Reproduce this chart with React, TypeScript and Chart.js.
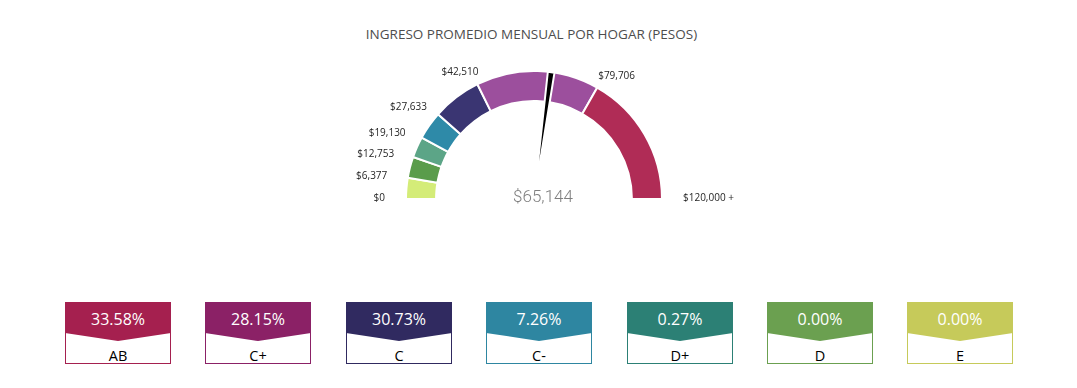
import React, { useEffect, useRef } from 'react';
import { Chart, registerables } from 'chart.js';

Chart.register(...registerables);

// ---- data ----
const chartTitle = 'INGRESO PROMEDIO MENSUAL POR HOGAR (PESOS)';
const thresholds = [0, 6377, 12753, 19130, 27633, 42510, 79706, 120000];
const thresholdLabels = ['$0', '$6,377', '$12,753', '$19,130', '$27,633', '$42,510', '$79,706', '$120,000 +'];
const bandColors = ['#D4EC78', '#5A9C4B', '#5CA587', '#2E8AA8', '#3A3572', '#9C4F9D', '#B02C56'];
const currentValue = 65144;
const currentLabel = '$65,144';
const needleWidth = 2000;

const groups = ['AB', 'C+', 'C', 'C-', 'D+', 'D', 'E'];
const groupShares = [33.58, 28.15, 30.73, 7.26, 0.27, 0.0, 0.0];
const groupColors = ['#A5204F', '#8B2166', '#302A60', '#2E86A1', '#2C8075', '#6BA050', '#C6CA5A'];

// ---- derived ----
const bandValues = thresholds.slice(1).map((t, i) => t - thresholds[i]);
const gaugeMax = thresholds[thresholds.length - 1];
const needleValues = [currentValue - needleWidth / 2, needleWidth, gaugeMax - currentValue - needleWidth / 2];

const chartPadding = { left: 65, right: 87, top: 15, bottom: 15 };

const boundaryLabelsPlugin = {
  id: 'boundaryLabels',
  afterDatasetsDraw(chart: any) {
    const meta = chart.getDatasetMeta(0);
    const arcs = meta.data;
    if (!arcs || !arcs.length) return;
    const ctx = chart.ctx;
    ctx.save();
    ctx.font = '10px "Open Sans"';
    ctx.fillStyle = '#262626';
    ctx.textAlign = 'center';
    ctx.textBaseline = 'middle';
    const first = arcs[0];
    const { x, y, outerRadius } = first.getProps(['x', 'y', 'outerRadius'], true);
    const angles = arcs.map((a: any) => a.startAngle).concat([arcs[arcs.length - 1].endAngle]);
    angles.forEach((ang: number, i: number) => {
      const text = thresholdLabels[i];
      const c = Math.cos(ang);
      const s = Math.sin(ang);
      const px = x + outerRadius * c;
      const py = y + outerRadius * s;
      const w = ctx.measureText(text).width;
      const cx = px + c * (21 + w / 2);
      const cy = py + s * 14 * Math.abs(s) - 1;
      ctx.fillText(text, cx, cy);
    });
    ctx.restore();
  },
};

function Gauge() {
  const ringRef = useRef<HTMLCanvasElement>(null);
  const needleRef = useRef<HTMLCanvasElement>(null);

  useEffect(() => {
    const common: any = {
      responsive: true,
      maintainAspectRatio: false,
      animation: false,
      events: [],
      rotation: -90,
      circumference: 180,
      layout: { padding: chartPadding },
      plugins: { legend: { display: false }, tooltip: { enabled: false }, title: { display: false } },
    };
    const ring = new Chart(ringRef.current as HTMLCanvasElement, {
      type: 'doughnut',
      data: {
        labels: thresholdLabels.slice(0, -1),
        datasets: [
          {
            data: bandValues,
            backgroundColor: bandColors,
            borderColor: '#ffffff',
            borderWidth: 2,
            hoverBorderWidth: 2,
            hoverOffset: 0,
            offset: 0,
          },
        ],
      },
      options: { ...common, cutout: '76.5%' },
      plugins: [boundaryLabelsPlugin],
    } as any);
    const needle = new Chart(needleRef.current as HTMLCanvasElement, {
      type: 'pie',
      data: {
        labels: ['', 'needle', ''],
        datasets: [
          {
            data: needleValues,
            backgroundColor: ['rgba(0,0,0,0)', '#000000', 'rgba(0,0,0,0)'],
            borderColor: '#ffffff',
            borderWidth: [0, 2, 0],
            hoverBorderWidth: [0, 2, 0],
            hoverOffset: 0,
            offset: 0,
          },
        ],
      },
      options: { ...common, cutout: 0 },
    } as any);
    return () => {
      ring.destroy();
      needle.destroy();
    };
  }, []);

  const box: React.CSSProperties = { position: 'absolute', left: 340, top: 55, width: 410, height: 160 };
  return (
    <>
      <div style={box}>
        <canvas ref={ringRef} />
      </div>
      <div style={box}>
        <canvas ref={needleRef} />
      </div>
    </>
  );
}

function Card({ label, share, color, left }: { label: string; share: number; color: string; left: number }) {
  return (
    <div
      style={{
        position: 'absolute',
        left,
        top: 302,
        width: 106,
        height: 62,
        boxSizing: 'border-box',
        border: `1px solid ${color}`,
        background: '#fff',
      }}
    >
      <div
        style={{
          position: 'absolute',
          left: -1,
          top: -1,
          width: 106,
          height: 40,
          background: color,
          clipPath: 'polygon(0 0, 100% 0, 100% 31px, 50% 39px, 0 31px)',
        }}
      />
      <div
        style={{
          position: 'absolute',
          left: -1,
          top: -1,
          width: 106,
          height: 34,
          lineHeight: '34px',
          textAlign: 'center',
          color: '#ffffff',
          fontSize: 16,
        }}
      >
        {share.toFixed(2) + '%'}
      </div>
      <div
        style={{
          position: 'absolute',
          left: -1,
          top: 43,
          width: 106,
          height: 20,
          lineHeight: '20px',
          textAlign: 'center',
          color: '#000000',
          fontSize: 14.5,
        }}
      >
        {label}
      </div>
    </div>
  );
}

export default function App() {
  return (
    <div
      style={{
        position: 'absolute',
        left: 0,
        top: 0,
        width: 1077,
        height: 388,
        background: '#ffffff',
        fontFamily: '"Open Sans", sans-serif',
        overflow: 'hidden',
      }}
    >
      <div
        style={{
          position: 'absolute',
          left: 0,
          width: 1063,
          top: 24,
          height: 20,
          lineHeight: '20px',
          textAlign: 'center',
          fontSize: 13.5,
          color: '#4D4D4D',
        }}
      >
        {chartTitle}
      </div>
      <Gauge />
      <div
        style={{
          position: 'absolute',
          left: 443,
          width: 200,
          top: 184,
          height: 24,
          lineHeight: '24px',
          textAlign: 'center',
          fontFamily: 'Roboto, sans-serif',
          fontWeight: 300,
          fontSize: 17,
          color: '#7F7F7F',
        }}
      >
        {currentLabel}
      </div>
      {groups.map((g, i) => (
        <Card key={g} label={g} share={groupShares[i]} color={groupColors[i]} left={Math.round(65 + i * 140.4)} />
      ))}
    </div>
  );
}
